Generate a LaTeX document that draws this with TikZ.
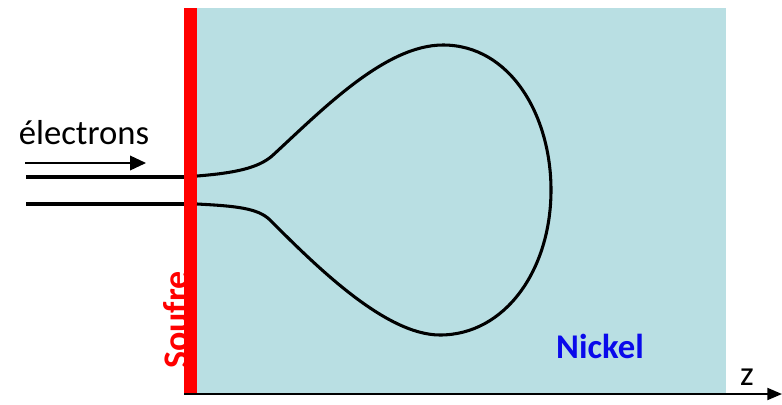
\documentclass[tikz,border=0pt]{standalone}
\usepackage{fontspec}
\setmainfont{Carlito}
\usepackage{tikz}
\usetikzlibrary{calc}
\usetikzlibrary{positioning}
\usetikzlibrary{arrows.meta}
\usepackage{xcolor}
\definecolor{nickel}{RGB}{185,223,227}
\definecolor{soufre}{RGB}{255,0,0}
\definecolor{bleu}{RGB}{10,10,235}

\begin{document}
\begin{tikzpicture}[
		x=0.75pt, y=-0.75pt,
		t/.style = {inner sep=0pt, font=\fontsize{26}{30}\selectfont},
		b/.style = {line width=2.3pt},
		ax/.style = {-{Triangle[length=11pt, width=9pt]}, line width=1.4pt},
		el/.style = {-{Triangle[length=12pt, width=11pt]}, line width=1.1pt},
		]
		
		\useasboundingbox (0, 0) rectangle (782, 404);
		
		\fill[nickel]	(190, 8) rectangle (726, 393);
		
		\node[t, font=\fontsize{27}{30}\selectfont\bfseries, text=soufre, rotate=90, anchor=base]
					(sf)	at	(188, 320)		{Soufre};
		\fill[soufre]	(184, 8) rectangle (197, 395);
		
		\node[t, font=\fontsize{26}{30}\selectfont\bfseries, text=bleu]
					(ni)	at	(600, 346)		{Nickel};
		\node[t]	(e)		at	(84, 133)		{électrons};
		\node[t]	(z)		at	(747, 377)		{z};
		
		\coordinate	(o)		at	(184, 394);
		\coordinate	(zend)	at	(782, 394);
		\coordinate	(ea)	at	(25, 163);
		\coordinate	(eb)	at	(146, 163);
		\coordinate	(h1)	at	(26, 177);
		\coordinate	(h2)	at	(184, 177);
		\coordinate	(l1)	at	(26, 204);
		\coordinate	(l2)	at	(184, 204);
		
		\draw[ax]	(o)		--	(zend);
		\draw[el]	(ea)	--	(eb);
		\draw[b]	(h1)	--	(h2);
		\draw[b]	(l1)	--	(l2);
		
		\draw[line width=2.3pt, line join=round]
			(197, 176)	.. controls (235, 173) and (258, 168) .. (272, 156)
						.. controls (322, 110) and (385, 45) .. (443, 45)
						.. controls (510, 45) and (551, 115) .. (551, 190)
						.. controls (551, 270) and (505, 335) .. (440, 335)
						.. controls (385, 335) and (315, 265) .. (270, 220)
						.. controls (258, 208) and (235, 206) .. (197, 204);
	\end{tikzpicture}
\end{document}
